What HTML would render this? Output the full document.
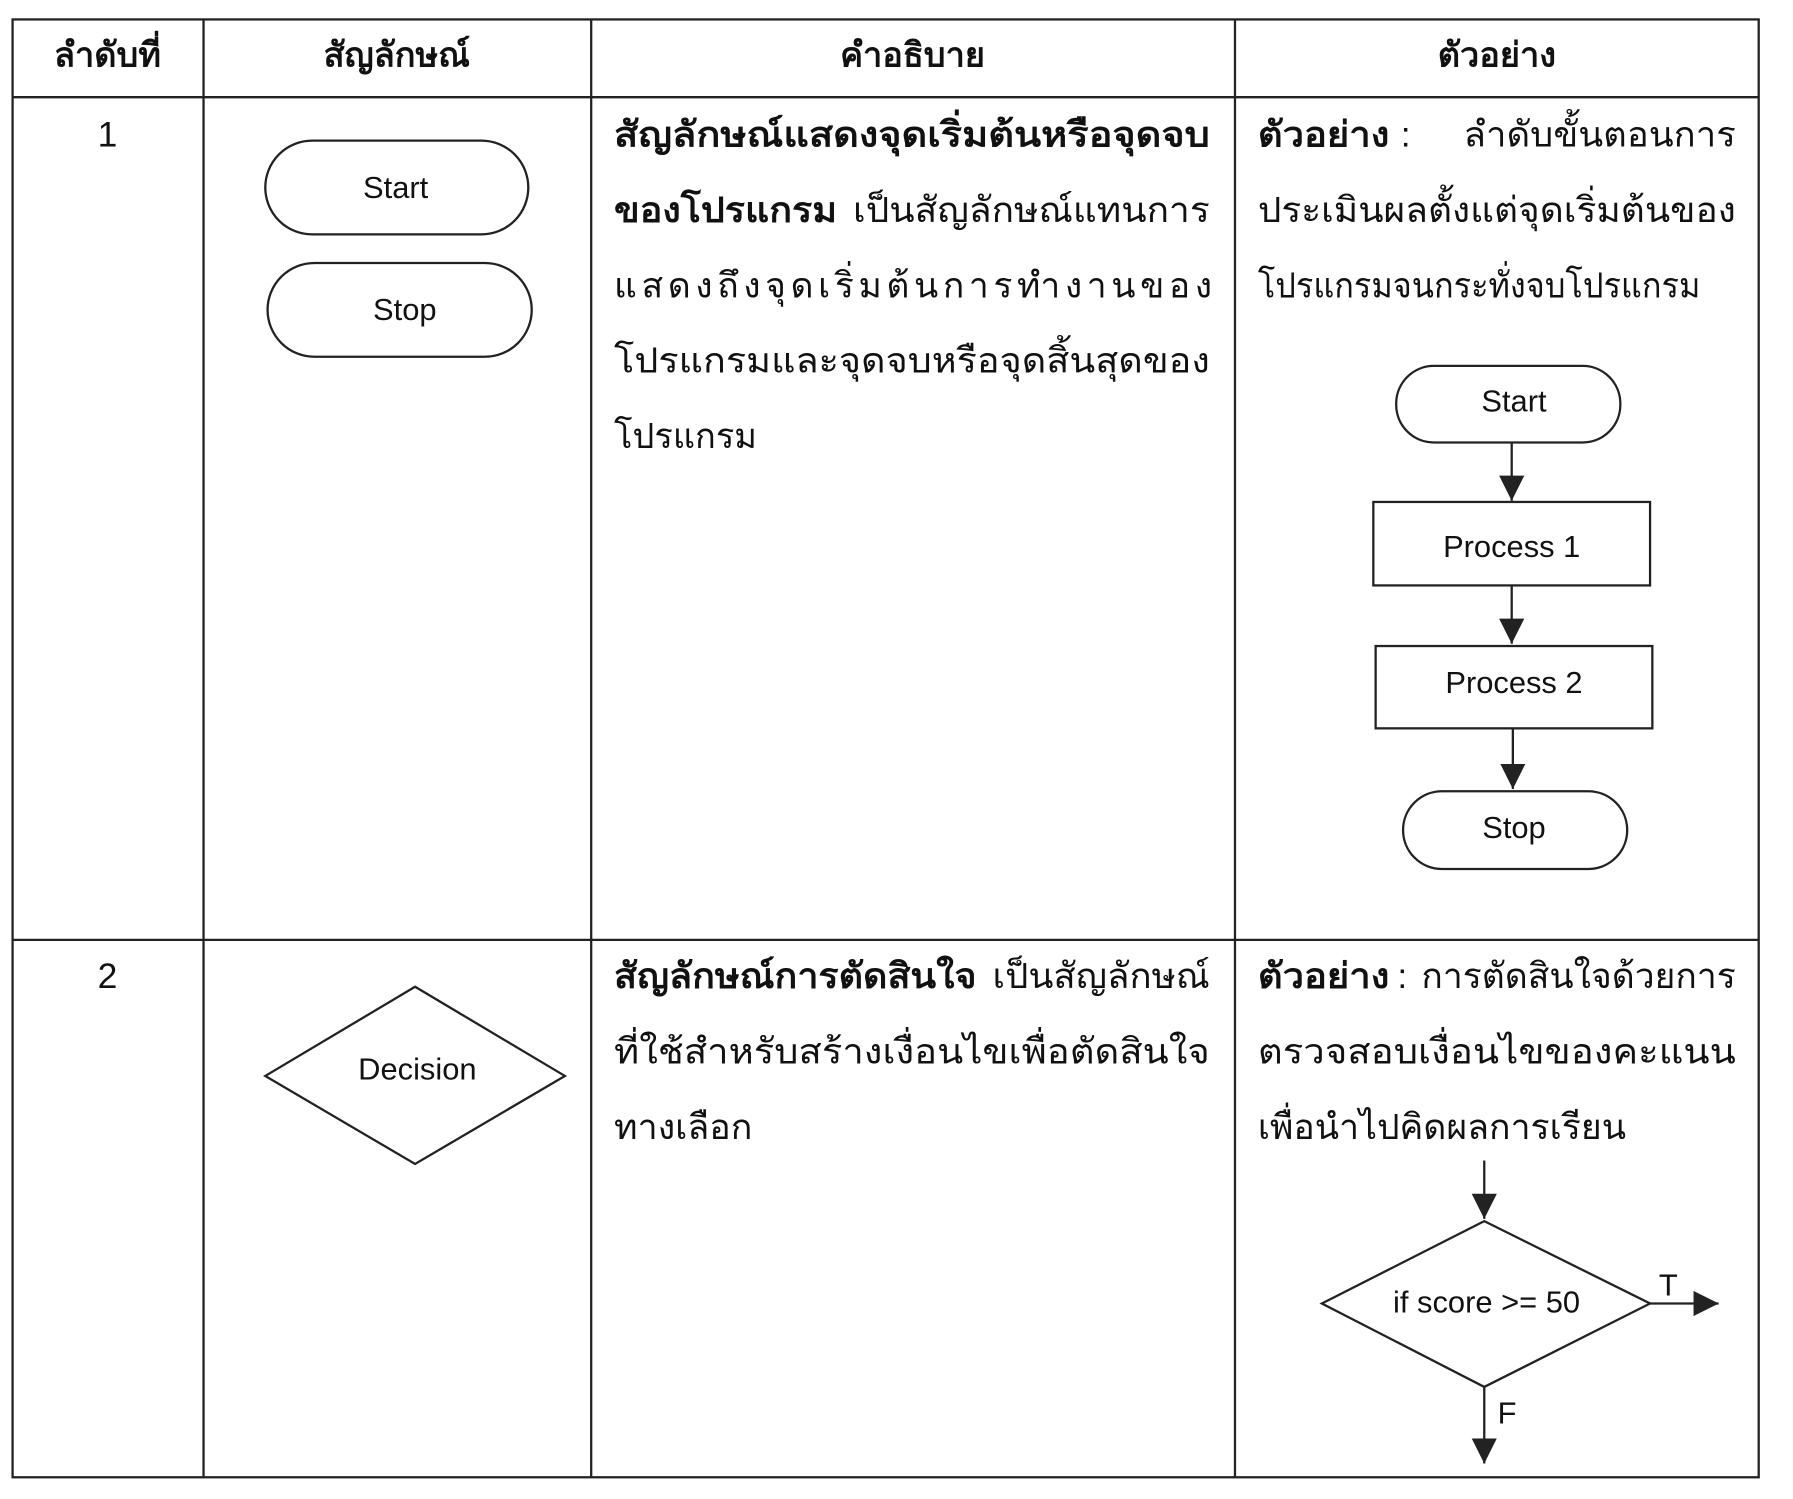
<!DOCTYPE html>
<html><head><meta charset="utf-8"><style>
html,body{margin:0;padding:0;background:#fff;}
svg{display:block;}
text{font-family:"Liberation Sans","DejaVu Sans",sans-serif;fill:#111;}
.h{font-size:30px;font-weight:bold;text-anchor:middle;}
.t{font-size:31px;}
.b{font-weight:bold;}
.s{font-size:27px;text-anchor:middle;}
</style></head><body>
<svg width="1793" height="1499" viewBox="0 0 1568 1311" preserveAspectRatio="none" xmlns="http://www.w3.org/2000/svg">
<defs><marker id="a" markerWidth="22" markerHeight="22" refX="22" refY="11" orient="auto" markerUnits="userSpaceOnUse" viewBox="0 0 22 22"><path d="M0,0 L22,11 L0,22z" fill="#222"/></marker></defs>
<g stroke="#222" stroke-width="2" fill="none">
<rect x="11" y="17" width="1527" height="1275"/>
<line x1="11" y1="85" x2="1538" y2="85"/>
<line x1="11" y1="822" x2="1538" y2="822"/>
<line x1="178" y1="17" x2="178" y2="1292"/>
<line x1="517" y1="17" x2="517" y2="1292"/>
<line x1="1080" y1="17" x2="1080" y2="1292"/>
</g>
<text class="h" x="94" y="58">ลำดับที่</text>
<text class="h" x="347" y="58">สัญลักษณ์</text>
<text class="h" x="798" y="58">คำอธิบาย</text>
<text class="h" x="1309" y="58">ตัวอย่าง</text>

<text class="t" x="94" y="128" text-anchor="middle">1</text>
<text class="t" x="94" y="864" text-anchor="middle">2</text>

<g stroke="#222" stroke-width="2" fill="none">
<rect x="232" y="123" width="230" height="82" rx="41"/>
<rect x="234" y="230" width="231" height="82" rx="41"/>
<polygon points="232,941 363,863 494,941 363,1018"/>
<rect x="1221" y="320" width="196" height="67" rx="33"/>
<rect x="1201" y="439" width="242" height="73"/>
<rect x="1203" y="565" width="242" height="72"/>
<rect x="1227" y="692" width="196" height="68" rx="34"/>
<polygon points="1156,1140 1298,1068 1443,1140 1298,1213"/>
</g>
<g stroke="#222" stroke-width="2" marker-end="url(#a)">
<line x1="1322" y1="387" x2="1322" y2="438"/>
<line x1="1322" y1="512" x2="1322" y2="563"/>
<line x1="1323" y1="637" x2="1323" y2="690"/>
<line x1="1298" y1="1015" x2="1298" y2="1066"/>
<line x1="1443" y1="1140" x2="1503" y2="1140"/>
<line x1="1298" y1="1213" x2="1298" y2="1280"/>
</g>
<text class="s" x="346" y="173">Start</text>
<text class="s" x="354" y="280">Stop</text>
<text class="s" x="365" y="944">Decision</text>
<text class="s" x="1324" y="360">Start</text>
<text class="s" x="1322" y="487">Process 1</text>
<text class="s" x="1324" y="606">Process 2</text>
<text class="s" x="1324" y="733">Stop</text>
<text class="s" x="1300" y="1148">if score &gt;= 50</text>
<text class="s" x="1459" y="1133">T</text>
<text class="s" x="1318" y="1245">F</text>

<text class="t b" x="537" y="128" textLength="521" lengthAdjust="spacingAndGlyphs">สัญลักษณ์แสดงจุดเริ่มต้นหรือจุดจบ</text>
<text class="t b" x="537" y="194" textLength="195" lengthAdjust="spacingAndGlyphs">ของโปรแกรม</text>
<text class="t" x="746" y="194" textLength="312" lengthAdjust="spacingAndGlyphs">เป็นสัญลักษณ์แทนการ</text>
<text class="t" x="537" y="260" textLength="523" lengthAdjust="spacing">แสดงถึงจุดเริ่มต้นการทำงานของ</text>
<text class="t" x="537" y="326" textLength="521" lengthAdjust="spacingAndGlyphs">โปรแกรมและจุดจบหรือจุดสิ้นสุดของ</text>
<text class="t" x="537" y="392" textLength="125" lengthAdjust="spacingAndGlyphs">โปรแกรม</text>

<text class="t b" x="1100" y="128" textLength="115" lengthAdjust="spacingAndGlyphs">ตัวอย่าง</text>
<text class="t" x="1225" y="128">:</text>
<text class="t" x="1280" y="128" textLength="238" lengthAdjust="spacingAndGlyphs">ลำดับขั้นตอนการ</text>
<text class="t" x="1100" y="194" textLength="418" lengthAdjust="spacingAndGlyphs">ประเมินผลตั้งแต่จุดเริ่มต้นของ</text>
<text class="t" x="1100" y="260" textLength="387" lengthAdjust="spacingAndGlyphs">โปรแกรมจนกระทั่งจบโปรแกรม</text>

<text class="t b" x="537" y="864" textLength="317" lengthAdjust="spacingAndGlyphs">สัญลักษณ์การตัดสินใจ</text>
<text class="t" x="868" y="864" textLength="190" lengthAdjust="spacingAndGlyphs">เป็นสัญลักษณ์</text>
<text class="t" x="537" y="930" textLength="521" lengthAdjust="spacingAndGlyphs">ที่ใช้สำหรับสร้างเงื่อนไขเพื่อตัดสินใจ</text>
<text class="t" x="537" y="996" textLength="121" lengthAdjust="spacingAndGlyphs">ทางเลือก</text>

<text class="t b" x="1100" y="864" textLength="115" lengthAdjust="spacingAndGlyphs">ตัวอย่าง</text>
<text class="t" x="1222" y="864">:</text>
<text class="t" x="1243" y="864" textLength="275" lengthAdjust="spacingAndGlyphs">การตัดสินใจด้วยการ</text>
<text class="t" x="1100" y="930" textLength="418" lengthAdjust="spacingAndGlyphs">ตรวจสอบเงื่อนไขของคะแนน</text>
<text class="t" x="1100" y="996" textLength="322" lengthAdjust="spacingAndGlyphs">เพื่อนำไปคิดผลการเรียน</text>
</svg>
</body></html>
